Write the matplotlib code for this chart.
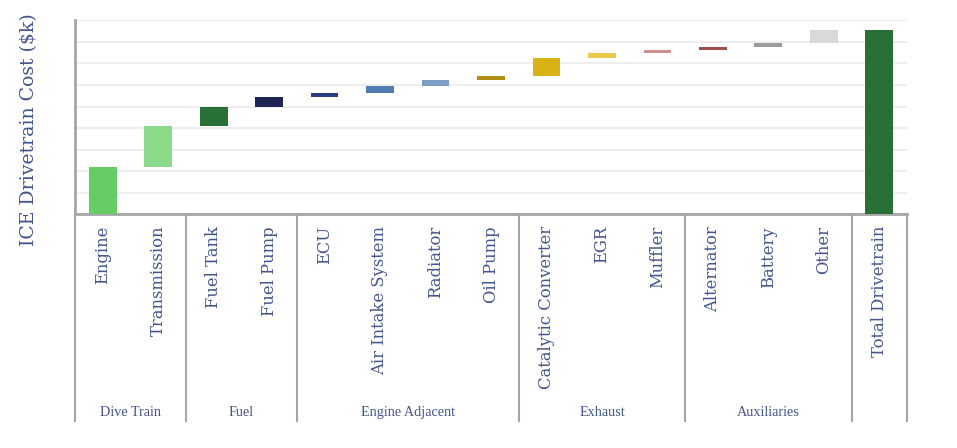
import numpy as np
import matplotlib.pyplot as plt

# component costs ($k)
components = ['Engine', 'Transmission', 'Fuel Tank', 'Fuel Pump', 'ECU',
              'Air Intake System', 'Radiator', 'Oil Pump', 'Catalytic Converter',
              'EGR', 'Muffler', 'Alternator', 'Battery', 'Other']
costs = [2.2, 1.9, 0.88, 0.46, 0.19, 0.32, 0.28, 0.19, 0.83, 0.23, 0.14, 0.14, 0.18, 0.61]
colors = ['#66cc66', '#8cdb8c', '#287035', '#1b2454', '#2c3c84', '#4f7cb2',
          '#7d9dc6', '#b08e14', '#d9b314', '#e8c94b', '#d08f8f', '#9c5049',
          '#9c9c9c', '#d9d9d9']
total_label = 'Total Drivetrain'
total_color = '#287035'

groups = ['Dive Train', 'Fuel', 'Engine Adjacent', 'Exhaust', 'Auxiliaries', '']
group_sizes = [2, 2, 4, 3, 3, 1]

text_color = '#44558e'
axis_color = '#a6a6a6'

fig = plt.figure(figsize=(9.57, 4.48), dpi=100)
ax = fig.add_axes([75 / 957, 1 - 214.3 / 448, 832 / 957, 194 / 448])

labels = components + [total_label]
x = np.arange(len(labels))
ends = np.cumsum(costs)
starts = ends - np.array(costs)
ax.bar(x[:-1], costs, bottom=starts, width=0.5, color=colors, zorder=3)
ax.bar(x[-1], ends[-1], width=0.5, color=total_color, zorder=3)

ax.set_xlim(-0.5, len(labels) - 0.5)
ax.set_ylim(0, 9)
ax.set_yticks(np.arange(0, 10, 1))
ax.yaxis.grid(True, color='#ebebeb', linewidth=1.2, zorder=0)
ax.tick_params(left=False, bottom=False, labelleft=False, labelbottom=False)
for s in ['top', 'right']:
    ax.spines[s].set_visible(False)
for s in ['left', 'bottom']:
    ax.spines[s].set_color(axis_color)
    ax.spines[s].set_linewidth(2)

ax.set_ylabel('ICE Drivetrain Cost ($k)', family='DejaVu Serif', fontsize=13.6,
              color=text_color)
ax.yaxis.set_label_coords(-0.044, 0.435)

trans = ax.get_xaxis_transform()
for xi, lab in zip(x, labels):
    ax.text(xi, -0.06, lab, transform=trans, rotation=90, ha='center', va='top',
            family='DejaVu Serif', fontsize=11.8, color=text_color)

# group separators and group names under the axis
edges = np.concatenate([[0], np.cumsum(group_sizes)]) - 0.5
for e in edges:
    ax.plot([e, e], [0, -1.067], transform=trans, color=axis_color,
            linewidth=1.5, clip_on=False)
for g, a, b in zip(groups, edges[:-1], edges[1:]):
    ax.text((a + b) / 2, -1.02, g, transform=trans, ha='center', va='center',
            family='Liberation Serif', fontsize=10.2, color=text_color)

plt.savefig('out.png', dpi=100)
